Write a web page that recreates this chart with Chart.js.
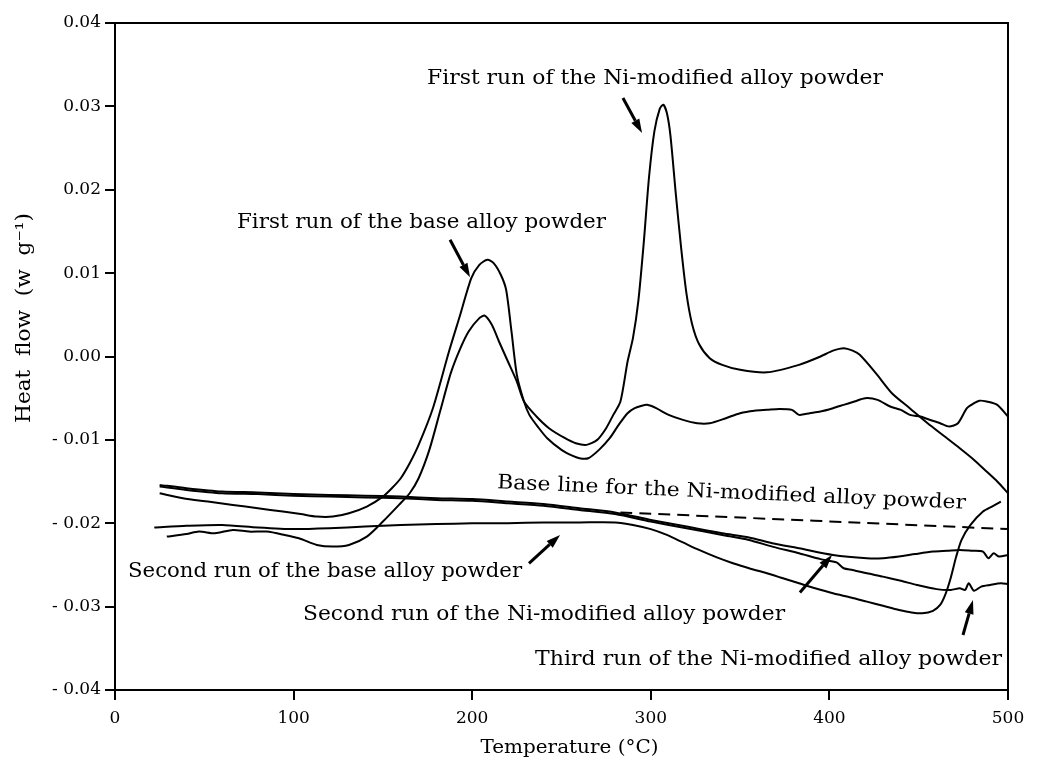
<!DOCTYPE html>
<html>
<head>
<meta charset="utf-8">
<script src="https://cdn.jsdelivr.net/npm/chart.js@4"></script>
<style>
html, body { margin: 0; padding: 0; background: #fff; }
canvas { display: block; }
</style>
</head>
<body>
<canvas id="dsc" width="1039" height="771"></canvas>
<script>
// ---------------------------------------------------------------
// DSC traces: temperature (°C) and heat flow (W/g)
// ---------------------------------------------------------------
const baseRun1T = [25, 38, 52, 66, 80, 94, 104, 113, 122, 131, 141, 150, 155, 160, 165, 170, 178, 187, 193, 199.5,
  204, 208.5, 212, 216, 219, 222, 225, 229, 232, 237, 242, 250, 256, 260, 265, 271, 277, 282, 287, 291,
  295, 298, 303, 310, 318, 326, 333, 342, 350, 358, 365, 372, 379, 383, 389, 395, 402, 408, 414, 420,
  427, 434, 440, 445, 451, 455, 462, 467, 472, 477, 481, 484, 488, 494, 500];
const baseRun1Y = [-0.0164, -0.0170, -0.0174, -0.0178, -0.0182, -0.0186, -0.0189, -0.0192, -0.0192, -0.0188,
  -0.0180, -0.0168, -0.0158, -0.0146, -0.0128, -0.0106, -0.0062, 0.0006, 0.0048, 0.0094,
  0.0110, 0.0116, 0.0112, 0.0098, 0.0080, 0.0030, -0.0022, -0.0054, -0.0070, -0.0085,
  -0.0098, -0.0112, -0.0119, -0.0122, -0.0122, -0.0112, -0.0098, -0.0082, -0.0068, -0.0062,
  -0.0059, -0.0058, -0.0062, -0.0070, -0.0076, -0.0080, -0.0080, -0.0074, -0.0068, -0.0065,
  -0.0064, -0.0063, -0.0064, -0.0070, -0.0068, -0.0066, -0.0062, -0.0058, -0.0054, -0.0050,
  -0.0052, -0.0060, -0.0064, -0.0070, -0.0072, -0.0075, -0.0080, -0.0084, -0.0080, -0.0062,
  -0.0056, -0.0053, -0.0054, -0.0058, -0.0072];

const niRun1T = [29, 40, 47, 56, 66, 75, 85, 95, 103, 113, 122, 131, 141, 150, 159, 165, 170, 176, 182, 188,
  193, 198, 204, 207, 211, 215, 220, 225, 229, 236, 243, 252, 258, 264, 270, 275, 279, 283, 287, 290,
  293, 296, 299, 302, 305, 307, 309, 311, 314, 317, 320, 323, 327, 333, 340, 350, 365, 383, 395, 402,
  408, 413, 417, 426, 435, 445, 455, 464, 473, 481, 488, 494, 500];
const niRun1Y = [-0.0216, -0.0213, -0.0210, -0.0212, -0.0208, -0.0210, -0.0210, -0.0214, -0.0218, -0.0226,
  -0.0228, -0.0226, -0.0216, -0.0198, -0.0178, -0.0164, -0.0146, -0.0112, -0.0066, -0.0020,
  0.0008, 0.0030, 0.0046, 0.0049, 0.0038, 0.0018, -0.0006, -0.0030, -0.0054, -0.0072,
  -0.0086, -0.0098, -0.0104, -0.0106, -0.0100, -0.0086, -0.0070, -0.0054, -0.0006, 0.0022,
  0.0066, 0.0135, 0.0215, 0.0270, 0.0297, 0.0302, 0.0292, 0.0265, 0.0195, 0.0130,
  0.0075, 0.0040, 0.0015, -0.0002, -0.0010, -0.0016, -0.0019, -0.0010, 0.0000, 0.0007,
  0.0010, 0.0007, 0.0002, -0.0020, -0.0044, -0.0062, -0.0080, -0.0095, -0.0110, -0.0124,
  -0.0138, -0.0150, -0.0164];

const baseRun2T = [22, 40, 60, 80, 100, 120, 140, 160, 180, 200, 220, 240, 260, 280, 290, 300, 309, 318, 327, 337,
  346, 355, 365, 374, 383, 392, 402, 412, 421, 430, 439, 446, 452, 458, 462, 465, 468, 471, 474, 479,
  486, 491, 496];
const baseRun2Y = [-0.0205, -0.0203, -0.0202, -0.0205, -0.0207, -0.0206, -0.0204, -0.0202, -0.0201, -0.0200,
  -0.0200, -0.0199, -0.0199, -0.0199, -0.0202, -0.0207, -0.0214, -0.0223, -0.0232, -0.0241,
  -0.0248, -0.0254, -0.0260, -0.0266, -0.0272, -0.0278, -0.0284, -0.0289, -0.0294, -0.0299,
  -0.0304, -0.0307, -0.0308, -0.0305, -0.0298, -0.0285, -0.0265, -0.0240, -0.0220, -0.0202,
  -0.0186, -0.0180, -0.0174];

const niRun2T = [25, 40, 60, 80, 100, 120, 140, 160, 180, 200, 220, 240, 260, 280, 300, 320, 340, 355, 368, 383,
  402, 421, 430, 439, 448, 458, 466, 473, 480, 486, 489, 492, 495, 500];
const niRun2Y = [-0.0154, -0.0158, -0.0162, -0.0163, -0.0165, -0.0166, -0.0167, -0.0168, -0.0170, -0.0171,
  -0.0174, -0.0177, -0.0182, -0.0187, -0.0196, -0.0204, -0.0212, -0.0217, -0.0224, -0.0230,
  -0.0238, -0.0242, -0.0242, -0.0240, -0.0237, -0.0234, -0.0233, -0.0232, -0.0233, -0.0234,
  -0.0242, -0.0236, -0.0240, -0.0238];

const niRun3T = [25, 40, 60, 80, 100, 120, 140, 160, 180, 200, 220, 240, 260, 280, 300, 320, 340, 355, 368, 383,
  395, 404, 408, 413, 421, 430, 440, 449, 460, 468, 473, 476, 478, 481, 485, 490, 496, 500];
const niRun3Y = [-0.0156, -0.0160, -0.0164, -0.0165, -0.0167, -0.0168, -0.0169, -0.0170, -0.0172, -0.0173,
  -0.0176, -0.0179, -0.0184, -0.0189, -0.0198, -0.0206, -0.0214, -0.0220, -0.0228, -0.0236,
  -0.0243, -0.0247, -0.0254, -0.0256, -0.0260, -0.0264, -0.0269, -0.0274, -0.0279, -0.0280,
  -0.0278, -0.0280, -0.0272, -0.0281, -0.0276, -0.0274, -0.0272, -0.0273];

const baseLineT = [283, 500];
const baseLineY = [-0.0187, -0.0207];

const xTicks = [0, 100, 200, 300, 400, 500];
const yTicks = [-0.04, -0.03, -0.02, -0.01, 0, 0.01, 0.02, 0.03, 0.04];
const yTickLabels = ["- 0.04", "- 0.03", "- 0.02", "- 0.01", "0.00", "0.01", "0.02", "0.03", "0.04"];

// labels on the plot (anchor in data units, left end of the baseline)
const notes = [
  { text: "First run of the Ni-modified alloy powder", t: 174.7, v: 0.0327, w: 456, rot: 0 },
  { text: "First run of the base alloy powder", t: 68.3, v: 0.0154, w: 369, rot: 0 },
  { text: "Base line for the Ni-modified alloy powder", t: 213.9, v: -0.0158, w: 469, rot: 2.5 },
  { text: "Second run of the base alloy powder", t: 7.3, v: -0.0265, w: 394, rot: 0 },
  { text: "Second run of the Ni-modified alloy powder", t: 105.3, v: -0.0316, w: 482, rot: 0 },
  { text: "Third run of the Ni-modified alloy powder", t: 235.2, v: -0.0370, w: 467, rot: 0 }
];
// pointer arrows: [tail T, tail V, tip T, tip V]
const arrows = [
  [284.4, 0.0310, 295.1, 0.0268],
  [187.6, 0.0140, 198.8, 0.0095],
  [231.8, -0.0248, 249.2, -0.0214],
  [383.5, -0.0283, 401.5, -0.0238],
  [474.8, -0.0334, 480.4, -0.0292]
];

const serif = '"DejaVu Serif", "Liberation Serif", serif';

function pts(t, v) {
  return t.map((x, i) => ({ x: x, y: v[i] }));
}

function trace(label, t, v, dash) {
  return {
    label: label,
    data: pts(t, v),
    borderColor: "#000",
    borderWidth: 2,
    borderDash: dash || [],
    pointRadius: 0,
    tension: 0.25,
    fill: false
  };
}

function fitText(ctx, text, x, y, width, angle) {
  const w = ctx.measureText(text).width;
  ctx.save();
  ctx.translate(x, y);
  ctx.rotate(angle);
  ctx.scale(width / w, 1);
  ctx.fillText(text, 0, 0);
  ctx.restore();
}

// frame, labels, arrows and axis titles
const decorations = {
  id: "decorations",
  afterDraw(chart) {
    const { ctx, chartArea: a } = chart;
    const sx = chart.scales.x, sy = chart.scales.y;
    ctx.save();
    ctx.strokeStyle = "#000";
    ctx.fillStyle = "#000";
    ctx.lineWidth = 2;
    ctx.strokeRect(a.left, a.top, a.right - a.left, a.bottom - a.top);

    ctx.font = "20px " + serif;
    ctx.textAlign = "left";
    ctx.textBaseline = "alphabetic";
    notes.forEach(n => {
      fitText(ctx, n.text, sx.getPixelForValue(n.t), sy.getPixelForValue(n.v), n.w, n.rot * Math.PI / 180);
    });

    arrows.forEach(r => {
      const x0 = sx.getPixelForValue(r[0]), y0 = sy.getPixelForValue(r[1]);
      const x1 = sx.getPixelForValue(r[2]), y1 = sy.getPixelForValue(r[3]);
      const ang = Math.atan2(y1 - y0, x1 - x0);
      const len = 14, half = 4.5;
      const bx = x1 - len * Math.cos(ang), by = y1 - len * Math.sin(ang);
      ctx.lineWidth = 3;
      ctx.beginPath();
      ctx.moveTo(x0, y0);
      ctx.lineTo(bx, by);
      ctx.stroke();
      ctx.beginPath();
      ctx.moveTo(x1, y1);
      ctx.lineTo(bx + half * Math.sin(ang), by - half * Math.cos(ang));
      ctx.lineTo(bx - half * Math.sin(ang), by + half * Math.cos(ang));
      ctx.closePath();
      ctx.fill();
    });

    // axis titles
    ctx.font = "19px " + serif;
    ctx.textAlign = "center";
    ctx.textBaseline = "middle";
    fitText(ctx, "Temperature (°C)", (a.left + a.right) / 2 + 8, a.bottom + 58, 178, 0);
    ctx.font = "20px " + serif;
    fitText(ctx, "Heat  flow  (w  g⁻¹)", a.left - 90, a.top + 295, 210, -Math.PI / 2);
    ctx.restore();
  }
};

new Chart(document.getElementById("dsc"), {
  type: "line",
  data: {
    datasets: [
      trace("First run of the base alloy powder", baseRun1T, baseRun1Y),
      trace("First run of the Ni-modified alloy powder", niRun1T, niRun1Y),
      trace("Second run of the base alloy powder", baseRun2T, baseRun2Y),
      trace("Second run of the Ni-modified alloy powder", niRun2T, niRun2Y),
      trace("Third run of the Ni-modified alloy powder", niRun3T, niRun3Y),
      trace("Base line for the Ni-modified alloy powder", baseLineT, baseLineY, [12, 7])
    ]
  },
  options: {
    responsive: false,
    animation: false,
    layout: { padding: { top: 23, right: 31, bottom: 0, left: 0 } },
    plugins: {
      legend: { display: false },
      tooltip: { enabled: false }
    },
    scales: {
      x: {
        type: "linear",
        min: 0,
        max: 500,
        afterBuildTicks: s => { s.ticks = xTicks.map(v => ({ value: v })); },
        afterFit: s => { s.height = 81; },
        ticks: {
          callback: (v, i) => String(xTicks[i]),
          font: { family: serif, size: 17 },
          color: "#000",
          padding: 8,
          maxRotation: 0
        },
        grid: { drawOnChartArea: false, tickLength: 10, color: "#000", lineWidth: 2 },
        border: { color: "#000", width: 2 }
      },
      y: {
        type: "linear",
        min: -0.04,
        max: 0.04,
        afterBuildTicks: s => { s.ticks = yTicks.map(v => ({ value: v })); },
        afterFit: s => { s.width = 115; },
        ticks: {
          callback: (v, i) => yTickLabels[i],
          font: { family: serif, size: 17 },
          color: "#000",
          padding: 4
        },
        grid: { drawOnChartArea: false, tickLength: 10, color: "#000", lineWidth: 2 },
        border: { color: "#000", width: 2 }
      }
    }
  },
  plugins: [decorations]
});
</script>
</body>
</html>
